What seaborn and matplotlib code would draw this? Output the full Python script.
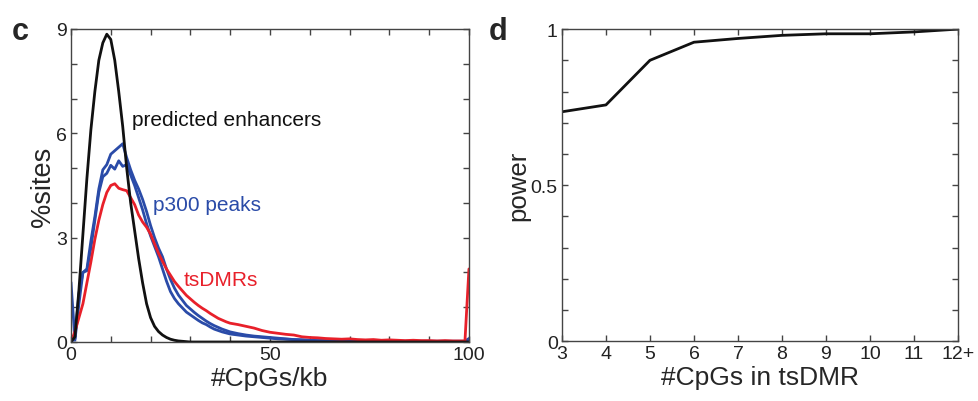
import numpy as np
import pandas as pd
import seaborn as sns
from matplotlib import pyplot as plt

# x grid of panel c (#CpGs/kb)
cpg_x = list(range(0, 41)) + list(range(42, 99, 2)) + [99, 100]

enhancers = [0, 0.15, 1.5, 3.1, 4.7, 6.1, 7.2, 8.1, 8.6, 8.85,
             8.7, 8.1, 7.2, 6.2, 5.0, 4.0, 3.2, 2.4, 1.7, 1.1,
             0.7, 0.45, 0.3, 0.2, 0.13, 0.08, 0.05, 0.03, 0.02, 0.01,
             0, 0, 0, 0, 0, 0, 0, 0, 0, 0, 0] + [0] * 31

tsdmrs = [0, 0.3, 0.7, 1.1, 1.7, 2.3, 2.95, 3.5, 3.95, 4.3,
          4.5, 4.55, 4.42, 4.38, 4.35, 4.15, 3.95, 3.65, 3.45, 3.3,
          3.1, 2.82, 2.55, 2.32, 2.1, 1.92, 1.74, 1.6, 1.47, 1.34,
          1.24, 1.14, 1.05, 0.97, 0.9, 0.82, 0.75, 0.68, 0.63, 0.58, 0.54,
          0.5, 0.45, 0.4, 0.33, 0.28, 0.25, 0.22, 0.2, 0.15, 0.13,
          0.12, 0.1, 0.09, 0.08, 0.09, 0.07, 0.06, 0.07, 0.05, 0.06,
          0.05, 0.04, 0.05, 0.04, 0.04, 0.03, 0.04, 0.03, 0.03,
          0.03, 2.1]

p300_a = [1.72, 0.05, 1.1, 2.0, 2.1, 2.9, 3.6, 4.4, 4.95, 5.1,
          5.4, 5.5, 5.6, 5.7, 5.3, 4.95, 4.65, 4.4, 4.1, 3.75,
          3.35, 3.0, 2.7, 2.45, 2.1, 1.8, 1.55, 1.35, 1.2, 1.05,
          0.95, 0.85, 0.76, 0.68, 0.6, 0.53, 0.47, 0.42, 0.37, 0.33, 0.29,
          0.24, 0.2, 0.17, 0.15, 0.13, 0.11, 0.09, 0.07, 0.06, 0.05,
          0.04, 0.04, 0.03, 0.03, 0.03, 0.02, 0.02, 0.02, 0.02, 0.02,
          0.02, 0.02, 0.02, 0.02, 0.02, 0.02, 0.02, 0.02, 0.02,
          0.02, 0.1]

p300_b = [0, 0.1, 1.4, 2.0, 2.05, 2.7, 3.5, 4.3, 4.75, 4.85,
          5.08, 4.97, 5.21, 5.05, 5.1, 4.8, 4.5, 4.15, 3.8, 3.4,
          3.05, 2.75, 2.45, 2.1, 1.75, 1.45, 1.25, 1.1, 0.98, 0.86,
          0.78, 0.7, 0.62, 0.55, 0.5, 0.43, 0.37, 0.33, 0.29, 0.26, 0.23,
          0.2, 0.17, 0.15, 0.13, 0.11, 0.09, 0.08, 0.07, 0.06, 0.05,
          0.04, 0.04, 0.03, 0.03, 0.02, 0.02, 0.02, 0.02, 0.02, 0.02,
          0.02, 0.02, 0.02, 0.02, 0.02, 0.02, 0.02, 0.02, 0.02,
          0.02, 0.08]

# panel d
n_cpgs = [3, 4, 5, 6, 7, 8, 9, 10, 11, 12]
n_cpgs_labels = ['3', '4', '5', '6', '7', '8', '9', '10', '11', '12+']
power = [0.735, 0.757, 0.90, 0.958, 0.970, 0.980, 0.985, 0.985, 0.991, 1.0]

black = '#111111'
red = '#e8202a'
blue = '#2a4ba8'

sns.set_style('ticks')
plt.rcParams['font.family'] = ['Liberation Sans', 'DejaVu Sans']
plt.rcParams['axes.edgecolor'] = '#444444'
plt.rcParams['axes.linewidth'] = 1.0

fig = plt.figure(figsize=(9.79, 4.02), dpi=100)
ax1 = fig.add_axes([0.0725, 0.1468, 0.4065, 0.7786])
ax2 = fig.add_axes([0.574, 0.149, 0.4045, 0.7761])

df = pd.DataFrame({'x': cpg_x, 'enh': enhancers, 'ts': tsdmrs, 'pa': p300_a, 'pb': p300_b})
sns.lineplot(data=df, x='x', y='pb', color=blue, lw=2, ax=ax1)
sns.lineplot(data=df, x='x', y='pa', color=blue, lw=2, ax=ax1)
sns.lineplot(data=df, x='x', y='ts', color=red, lw=2, ax=ax1)
sns.lineplot(data=df, x='x', y='enh', color=black, lw=2, ax=ax1)

ax1.set_xlim(0, 100)
ax1.set_ylim(0, 9)
ax1.set_xticks(range(0, 101, 10))
ax1.set_xticklabels(['0', '', '', '', '', '50', '', '', '', '', '100'])
ax1.set_yticks(range(0, 10))
ax1.set_yticklabels(['0', '', '', '3', '', '', '6', '', '', '9'])
ax1.set_xlabel('#CpGs/kb', fontsize=19, labelpad=2)
ax1.set_ylabel('%sites', fontsize=19.5, labelpad=0)
ax1.text(15.3, 6.4, 'predicted enhancers', color=black, fontsize=15, va='center')
ax1.text(20.5, 3.95, 'p300 peaks', color=blue, fontsize=15, va='center')
ax1.text(28.2, 1.8, 'tsDMRs', color=red, fontsize=15, va='center')

sns.lineplot(x=n_cpgs, y=power, color=black, lw=2, ax=ax2)
ax2.set_xlim(3, 12)
ax2.set_ylim(0, 1)
ax2.set_xticks(n_cpgs)
ax2.set_xticklabels(n_cpgs_labels)
ax2.set_yticks(np.linspace(0, 1, 11))
ax2.set_yticklabels(['0', '', '', '', '', '0.5', '', '', '', '', '1'])
ax2.set_xlabel('#CpGs in tsDMR', fontsize=19, labelpad=2)
ax2.set_ylabel('power', fontsize=18.5, labelpad=0)

for ax in (ax1, ax2):
    ax.tick_params(direction='in', length=4, width=1, top=True, right=True,
                   labelsize=14, colors='#444444', labelcolor='#222222', pad=3)
    for s in ax.spines.values():
        s.set_visible(True)

fig.text(0.012, 0.9, 'c', fontsize=22, fontweight='bold')
fig.text(0.499, 0.9, 'd', fontsize=22, fontweight='bold')

fig.savefig('out.png', dpi=100)
